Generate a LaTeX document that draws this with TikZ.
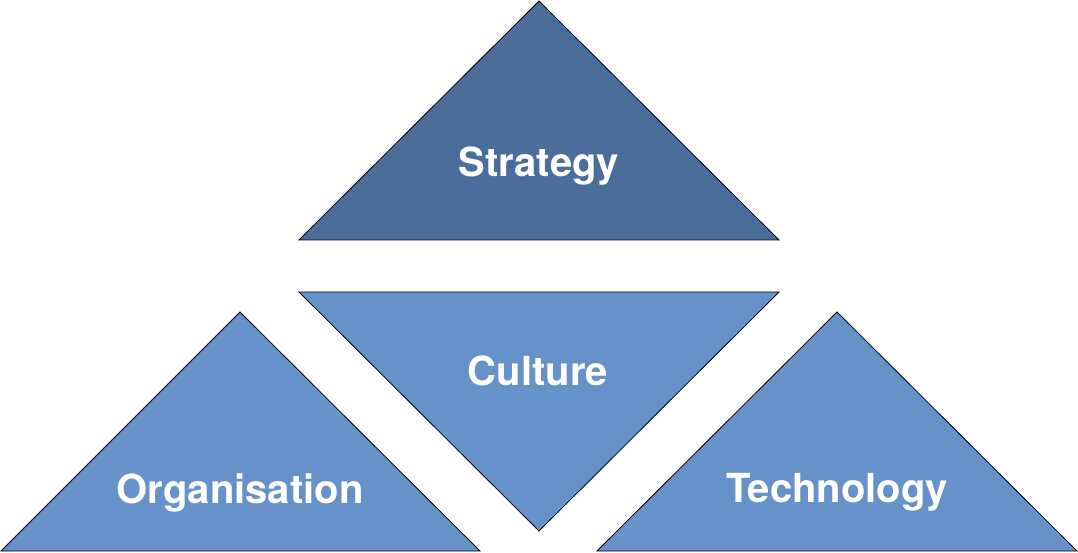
\documentclass[tikz,border=0pt]{standalone}
\usepackage{fontspec}
\setmainfont{TeX Gyre Heros}
\definecolor{darkblue}{HTML}{4A6D9C}
\definecolor{lightblue}{HTML}{6792C9}
\begin{document}
\begin{tikzpicture}[x=1pt,y=-1pt,
  tri/.style={draw=black, line width=0.8pt, line join=miter},
  lbl/.style={text=white, font=\fontsize{40}{48}\selectfont\bfseries, anchor=base, inner sep=0pt}]
\useasboundingbox (0,0) rectangle (1078,553);
\filldraw[tri, fill=darkblue] (539,1) -- (779,240) -- (299,240) -- cycle;
\filldraw[tri, fill=lightblue] (299,292) -- (779,292) -- (539,531) -- cycle;
\filldraw[tri, fill=lightblue] (240,312) -- (480,551) -- (1,551) -- cycle;
\filldraw[tri, fill=lightblue] (837,312) -- (1077,551) -- (597,551) -- cycle;
\node[lbl] (strategy) at (539,177) {Strategy};
\node[lbl] (culture) at (538,385) {Culture};
\node[lbl] (organisation) at (240,503) {Organisation};
\node[lbl] (technology) at (837,502) {Technology};
\end{tikzpicture}
\end{document}
